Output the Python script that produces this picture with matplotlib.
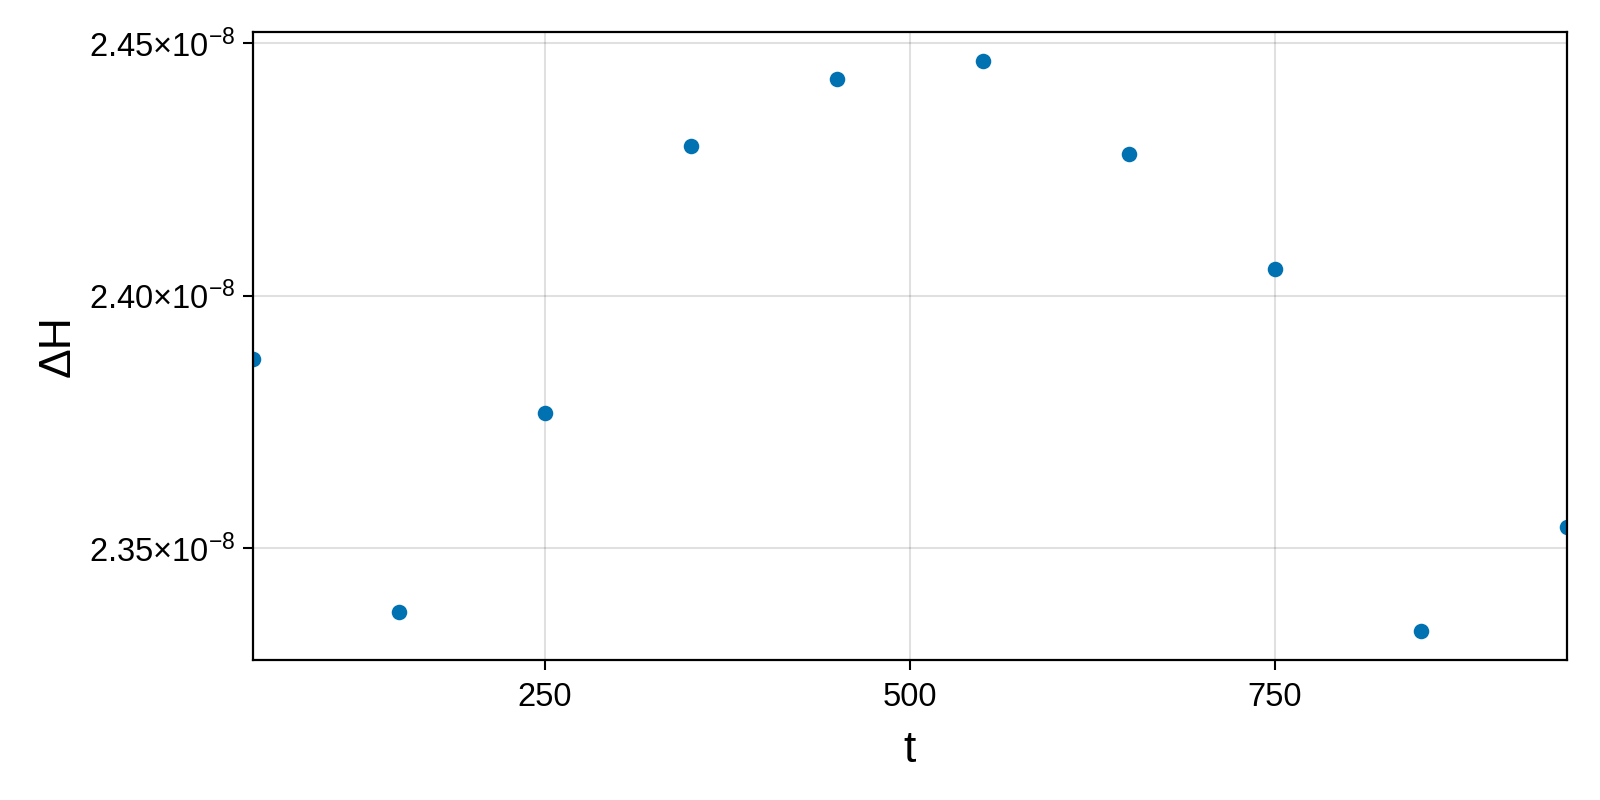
import matplotlib
matplotlib.use("Agg")
import matplotlib.pyplot as plt
from matplotlib.ticker import FuncFormatter

plt.rcParams['font.family'] = ['Liberation Sans', 'DejaVu Sans']
plt.rcParams['mathtext.fontset'] = 'custom'
plt.rcParams['mathtext.rm'] = 'Liberation Sans'
plt.rcParams['mathtext.it'] = 'Liberation Sans'

# Data
t = [50, 150, 250, 350, 450, 550, 650, 750, 850, 950]
dH = [2.3874e-8, 2.3374e-8, 2.3767e-8, 2.4297e-8, 2.4429e-8,
      2.4466e-8, 2.4281e-8, 2.4053e-8, 2.3335e-8, 2.3541e-8]
x_ticks = [250, 500, 750]
y_ticks = [2.35e-8, 2.40e-8, 2.45e-8]


def sci_label(v, pos):
    return f"{v / 1e-8:.2f}×10$^{{-8}}$"


fig = plt.figure(figsize=(16, 8), dpi=100)
ax = fig.add_axes([253 / 1600, 1 - 660 / 800, (1567 - 253) / 1600, (660 - 32) / 800])

ax.scatter(t, dH, s=125, color='#0072B2', linewidths=0, zorder=3)

ax.set_xlim(50, 950)
ax.margins(y=0.05)
ax.set_xticks(x_ticks)
ax.set_yticks(y_ticks)
ax.yaxis.set_major_formatter(FuncFormatter(sci_label))

ax.grid(True, color='black', alpha=0.12, linewidth=1.5, zorder=0)
ax.set_axisbelow(True)

for sp in ax.spines.values():
    sp.set_linewidth(1.6)
    sp.set_zorder(5)

ax.tick_params(axis='both', length=7, width=1.5, labelsize=23.5, pad=6)
ax.tick_params(axis='x', pad=9)

ax.set_xlabel('t', fontsize=32, labelpad=12)
ax.set_ylabel('ΔH', fontsize=32, labelpad=7)

fig.savefig('out.png', dpi=100)
